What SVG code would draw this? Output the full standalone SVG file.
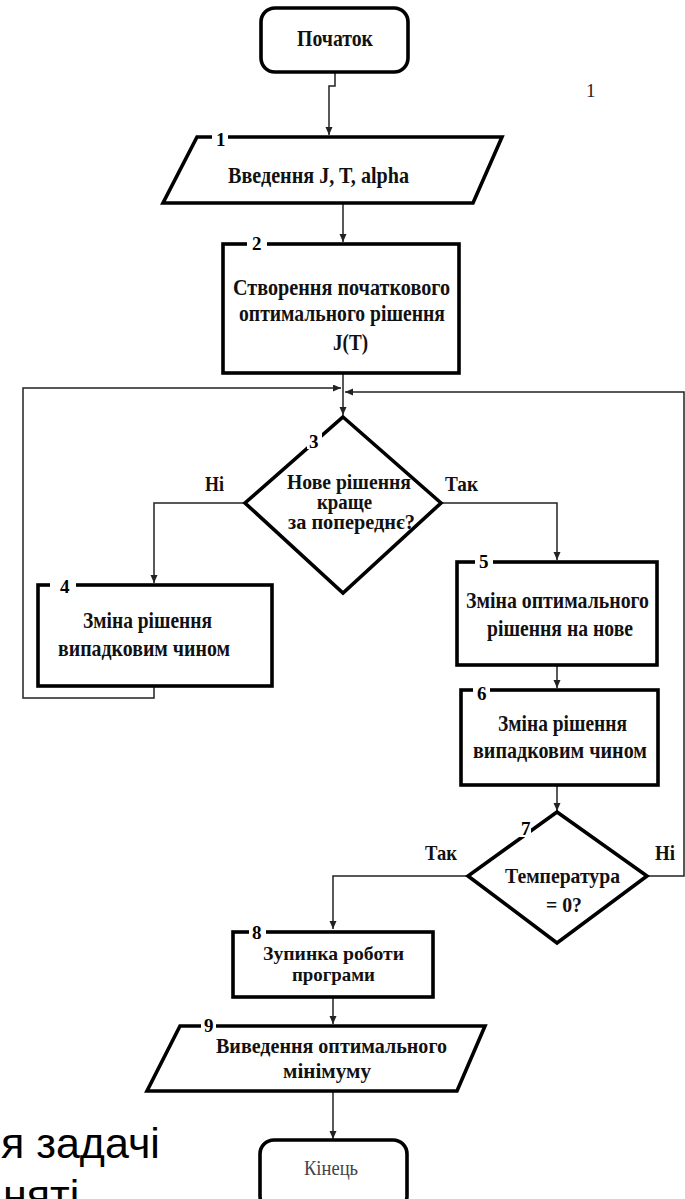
<svg xmlns="http://www.w3.org/2000/svg" width="685" height="1199" viewBox="0 0 685 1199">
  <style>
    .box { fill: #fff; stroke: #000; stroke-width: 3.6; stroke-linejoin: miter; }
    .term { fill: #fff; stroke: #000; stroke-width: 3.6; }
    .wire { fill: none; stroke: #222; stroke-width: 1.5; }
    .t { font-family: "Liberation Serif", "Times New Roman", serif; font-weight: bold; fill: #111; text-anchor: start; }
    .n { font-family: "Liberation Serif", "Times New Roman", serif; font-weight: bold; fill: #000; font-size: 19px; }
    .gap { fill: #fff; stroke: none; }
    .big { font-family: "Liberation Sans", Arial, sans-serif; font-size: 43px; fill: #000; }
  </style>
  <defs>
    <marker id="arrow" markerWidth="8" markerHeight="8" refX="8" refY="3.5" orient="auto" markerUnits="userSpaceOnUse">
      <path d="M0,0 L8,3.5 L0,7 z" fill="#222"/>
    </marker>
  </defs>

  <!-- background -->
  <rect x="0" y="0" width="685" height="1199" fill="#fff"/>

  <!-- connectors -->
  <g id="connectors">
    <path class="wire" d="M335,72 V86 H329 V135" marker-end="url(#arrow)"/>
    <path class="wire" d="M343,203 V242" marker-end="url(#arrow)"/>
    <path class="wire" d="M343,373 V415" marker-end="url(#arrow)"/>
    <path class="wire" d="M245,503 H154 V583" marker-end="url(#arrow)"/>
    <path class="wire" d="M441,503 H557 V560" marker-end="url(#arrow)"/>
    <path class="wire" d="M154,686 V698 H23 V388 H341" marker-end="url(#arrow)"/>
    <path class="wire" d="M557,665 V688" marker-end="url(#arrow)"/>
    <path class="wire" d="M557,785 V811" marker-end="url(#arrow)"/>
    <path class="wire" d="M468,876 H333 V929" marker-end="url(#arrow)"/>
    <path class="wire" d="M647,876 H684 V392 H345" marker-end="url(#arrow)"/>
    <path class="wire" d="M333,997 V1024" marker-end="url(#arrow)"/>
    <path class="wire" d="M333,1092 V1139" marker-end="url(#arrow)"/>
  </g>

  <!-- start -->
  <g id="start">
    <rect class="term" x="261" y="8" width="147" height="64" rx="14"/>
    <text class="t" x="297" y="46" font-size="24" textLength="76" lengthAdjust="spacingAndGlyphs">Початок</text>
  </g>

  <!-- 1: input -->
  <g id="node1">
    <polygon class="box" points="197,137 502,137 473,203 163,203"/>
    <rect class="gap" x="212" y="133" width="16" height="8"/>
    <text class="n" x="216" y="146">1</text>
    <text class="t" x="228" y="183" font-size="23" textLength="181" lengthAdjust="spacingAndGlyphs">Введення J, T, alpha</text>
  </g>

  <!-- 2: initial solution -->
  <g id="node2">
    <rect class="box" x="223" y="244" width="236" height="129"/>
    <rect class="gap" x="247" y="240" width="20" height="8"/>
    <text class="n" x="252" y="250">2</text>
    <text class="t" x="233" y="295" font-size="23" textLength="217" lengthAdjust="spacingAndGlyphs">Створення початкового</text>
    <text class="t" x="239" y="321" font-size="23" textLength="206" lengthAdjust="spacingAndGlyphs">оптимального рішення</text>
    <text class="t" x="333" y="350" font-size="23" textLength="35" lengthAdjust="spacingAndGlyphs">J(T)</text>
  </g>

  <!-- 3: decision -->
  <g id="node3">
    <polygon class="box" points="343,417 441,503 343,593 245,503"/>
    <rect class="gap" x="307" y="433" width="15" height="16"/>
    <text class="n" x="309" y="448">3</text>
    <text class="t" x="287" y="489" font-size="20" textLength="124" lengthAdjust="spacingAndGlyphs">Нове рішення</text>
    <text class="t" x="317" y="509" font-size="20" textLength="55" lengthAdjust="spacingAndGlyphs">краще</text>
    <text class="t" x="288" y="529" font-size="20" textLength="127" lengthAdjust="spacingAndGlyphs">за попереднє?</text>
    <text class="t" x="205" y="491" font-size="22" textLength="19" lengthAdjust="spacingAndGlyphs">Ні</text>
    <text class="t" x="445" y="491" font-size="22" textLength="33" lengthAdjust="spacingAndGlyphs">Так</text>
  </g>

  <!-- 4: random change (no branch) -->
  <g id="node4">
    <rect class="box" x="38" y="585" width="234" height="101"/>
    <rect class="gap" x="50" y="581" width="26" height="8"/>
    <text class="n" x="60" y="593">4</text>
    <text class="t" x="83" y="628" font-size="23" textLength="129" lengthAdjust="spacingAndGlyphs">Зміна рішення</text>
    <text class="t" x="58" y="656" font-size="23" textLength="172" lengthAdjust="spacingAndGlyphs">випадковим чином</text>
  </g>

  <!-- 5: accept new solution -->
  <g id="node5">
    <rect class="box" x="457" y="562" width="200" height="103"/>
    <rect class="gap" x="475" y="558" width="18" height="8"/>
    <text class="n" x="479" y="568">5</text>
    <text class="t" x="466" y="608" font-size="23" textLength="183" lengthAdjust="spacingAndGlyphs">Зміна оптимального</text>
    <text class="t" x="487" y="636" font-size="23" textLength="146" lengthAdjust="spacingAndGlyphs">рішення на нове</text>
  </g>

  <!-- 6: random change (yes branch) -->
  <g id="node6">
    <rect class="box" x="461" y="690" width="197" height="95"/>
    <rect class="gap" x="473" y="686" width="17" height="8"/>
    <text class="n" x="477" y="700">6</text>
    <text class="t" x="498" y="731" font-size="23" textLength="129" lengthAdjust="spacingAndGlyphs">Зміна рішення</text>
    <text class="t" x="473" y="758" font-size="23" textLength="174" lengthAdjust="spacingAndGlyphs">випадковим чином</text>
  </g>

  <!-- 7: temperature check -->
  <g id="node7">
    <polygon class="box" points="557,812 647,876 557,943 468,876"/>
    <rect class="gap" x="516" y="821" width="15" height="16"/>
    <text class="n" x="521" y="835">7</text>
    <text class="t" x="505" y="883" font-size="22" textLength="115" lengthAdjust="spacingAndGlyphs">Температура</text>
    <text class="t" x="546" y="912" font-size="22" textLength="36" lengthAdjust="spacingAndGlyphs">= 0?</text>
    <text class="t" x="425" y="860" font-size="22" textLength="32" lengthAdjust="spacingAndGlyphs">Так</text>
    <text class="t" x="655" y="860" font-size="22" textLength="20" lengthAdjust="spacingAndGlyphs">Ні</text>
  </g>

  <!-- 8: stop -->
  <g id="node8">
    <rect class="box" x="233" y="932" width="200" height="65"/>
    <rect class="gap" x="249" y="928" width="17" height="8"/>
    <text class="n" x="252" y="939">8</text>
    <text class="t" x="263" y="960" font-size="19" textLength="141" lengthAdjust="spacingAndGlyphs">Зупинка роботи</text>
    <text class="t" x="292" y="981" font-size="19" textLength="83" lengthAdjust="spacingAndGlyphs">програми</text>
  </g>

  <!-- 9: output -->
  <g id="node9">
    <polygon class="box" points="180,1026 485,1026 457,1091 147,1091"/>
    <rect class="gap" x="201" y="1022" width="15" height="8"/>
    <text class="n" x="204" y="1032">9</text>
    <text class="t" x="216" y="1053" font-size="20" textLength="231" lengthAdjust="spacingAndGlyphs">Виведення оптимального</text>
    <text class="t" x="283" y="1078" font-size="20" textLength="88" lengthAdjust="spacingAndGlyphs">мінімуму</text>
  </g>

  <!-- end -->
  <g id="end">
    <rect class="term" x="260" y="1140" width="147" height="70" rx="14"/>
    <text x="304" y="1175" font-family="Liberation Serif, 'Times New Roman', serif" font-size="20" fill="#444" textLength="54" lengthAdjust="spacingAndGlyphs">Кінець</text>
  </g>

  <!-- stray page number -->
  <text x="586" y="97" font-family="Liberation Serif, 'Times New Roman', serif" font-size="19" fill="#222">1</text>

  <!-- slide text behind the chart -->
  <text class="big" x="1" y="1158">я задачі</text>
  <text class="big" x="3" y="1210">няті</text>
</svg>
